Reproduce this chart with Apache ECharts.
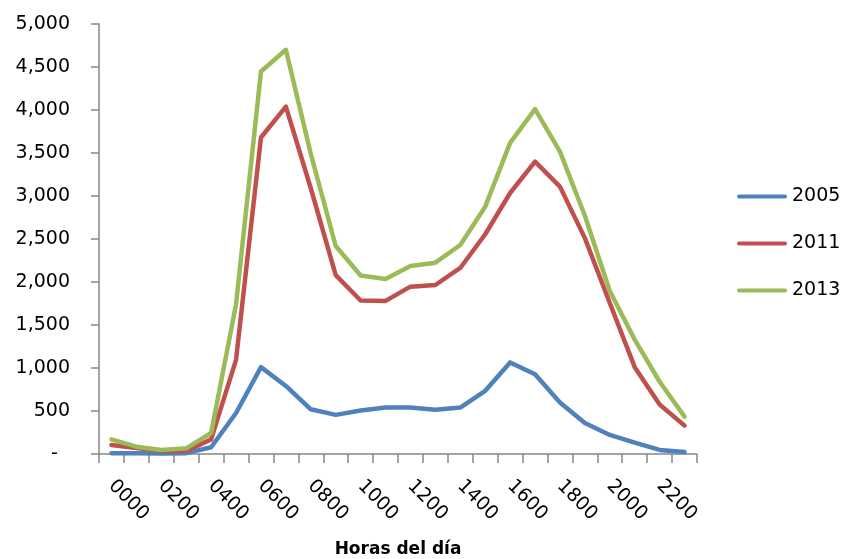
<!DOCTYPE html>
<html>
<head>
<meta charset="utf-8">
<script src="https://cdn.jsdelivr.net/npm/echarts@6/dist/echarts.min.js"></script>
<style>
  html, body { margin: 0; padding: 0; background: #fff; }
  #chart { width: 846px; height: 559px; }
</style>
</head>
<body>
<div id="chart"></div>
<script>
// Hour of day (24 slots) and traffic counts per year
const hours = ['0000','0100','0200','0300','0400','0500','0600','0700','0800','0900','1000','1100',
               '1200','1300','1400','1500','1600','1700','1800','1900','2000','2100','2200','2300'];
const values2005 = [10, 8, 5, 10, 78, 477, 1010, 791, 520, 455, 505, 540,
                    540, 515, 540, 735, 1065, 927, 600, 360, 222, 132, 47, 23];
const values2011 = [105, 70, 35, 35, 170, 1095, 3680, 4040, 3090, 2080, 1785, 1780,
                    1946, 1965, 2163, 2555, 3035, 3400, 3109, 2510, 1756, 1010, 575, 330];
const values2013 = [170, 85, 47, 66, 244, 1740, 4447, 4700, 3490, 2419, 2076, 2035,
                    2186, 2225, 2430, 2876, 3617, 4010, 3516, 2770, 1895, 1330, 840, 434];
const yearNames = ['2005', '2011', '2013'];
const yearColors = ['#4F81BD', '#C0504D', '#9BBB59'];

const FONT = 'DejaVu Sans';
const axisGray = '#868686';

const chart = echarts.init(document.getElementById('chart'), null, { renderer: 'canvas' });

const makeSeries = (name, data, color) => ({
  name: name,
  type: 'line',
  data: data,
  symbol: 'none',
  smooth: false,
  color: color,
  lineStyle: { width: 4.5, color: color, cap: 'round', join: 'round' },
  itemStyle: { color: color },
  emphasis: { disabled: true }
});

chart.setOption({
  animation: false,
  backgroundColor: '#ffffff',
  grid: { left: 99, right: 149, top: 24, bottom: 105, containLabel: false, outerBoundsMode: 'none' },
  legend: {
    orient: 'vertical',
    left: 737,
    top: 187,
    padding: 0,
    itemWidth: 50,
    itemHeight: 19,
    itemGap: 28,
    icon: 'path://M2,0 L48,0 A2,2 0 0 1 48,4 L2,4 A2,2 0 0 1 2,0 Z',
    data: yearNames,
    textStyle: { fontFamily: FONT, fontSize: 19, color: '#000' }
  },
  xAxis: {
    type: 'category',
    data: hours,
    boundaryGap: true,
    name: 'Horas del día',
    nameLocation: 'middle',
    nameGap: 87,
    nameTextStyle: { fontFamily: FONT, fontSize: 17, fontWeight: 'bold', color: '#000' },
    axisLine: { show: true, lineStyle: { color: axisGray, width: 1.5 } },
    axisTick: { show: true, interval: 0, length: 9, alignWithLabel: false, lineStyle: { color: axisGray, width: 1.5 } },
    axisLabel: {
      interval: 1,
      rotate: -45,
      margin: 29,
      fontFamily: FONT,
      fontSize: 19,
      color: '#000'
    },
    splitLine: { show: false }
  },
  yAxis: {
    type: 'value',
    min: 0,
    max: 5000,
    interval: 500,
    axisLine: { show: true, lineStyle: { color: axisGray, width: 1.5 } },
    axisTick: { show: true, length: 8, lineStyle: { color: axisGray, width: 1.5 } },
    axisLabel: {
      margin: 29,
      fontFamily: FONT,
      fontSize: 19,
      color: '#000',
      padding: [4, 0, 0, 0],
      formatter: v => v === 0 ? '-  ' : v.toLocaleString('en-US')
    },
    splitLine: { show: false }
  },
  series: [
    makeSeries(yearNames[0], values2005, yearColors[0]),
    makeSeries(yearNames[1], values2011, yearColors[1]),
    makeSeries(yearNames[2], values2013, yearColors[2])
  ]
});
</script>
</body>
</html>
